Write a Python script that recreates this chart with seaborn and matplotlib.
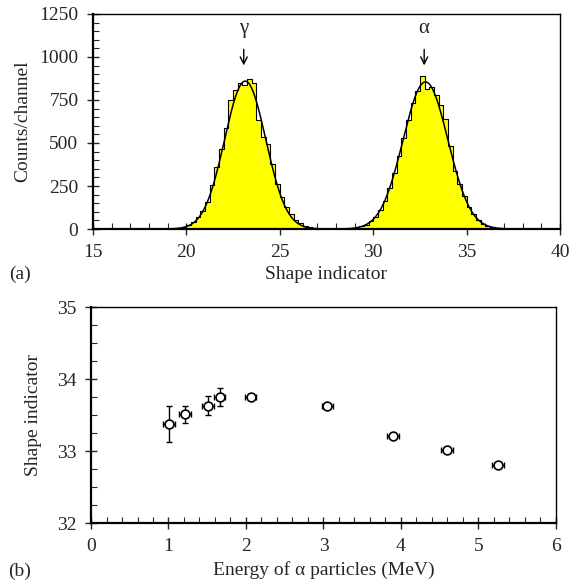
import numpy as np
import pandas as pd
import matplotlib
matplotlib.use('Agg')
import matplotlib.pyplot as plt
import seaborn as sns
from matplotlib.ticker import MultipleLocator

# ---- data ----
bin_width = 0.25
gamma_start = 19.0
gamma_counts = [1, 2, 5, 10, 22, 41, 70, 105, 157, 254, 361, 468, 590, 749, 807, 846, 836,
                870, 846, 633, 536, 493, 380, 264, 186, 128, 90, 55, 35, 20, 10, 5, 2, 1]
alpha_start = 28.5
alpha_counts = [2, 4, 8, 15, 26, 44, 71, 111, 165, 236, 323, 422, 530, 635, 730, 803, 890,
                815, 824, 780, 720, 637, 481, 338, 264, 190, 128, 90, 55, 31, 18, 10, 5, 3, 1, 1]

# gaussian fits: amplitude, centroid, sigma
fit_gamma = [860, 23.15, 1.1]
fit_alpha = [855, 32.8, 1.2]

peak_labels = ['γ', 'α']
peak_pos = [23.07, 32.73]

energy = [1.01, 1.21, 1.51, 1.66, 2.06, 3.05, 3.90, 4.59, 5.25]
shape = [33.37, 33.51, 33.63, 33.75, 33.75, 33.625, 33.21, 33.01, 32.80]
shape_err = [0.25, 0.12, 0.13, 0.12, 0.03, 0.03, 0.03, 0.03, 0.03]
energy_err = [0.075, 0.075, 0.075, 0.075, 0.075, 0.075, 0.075, 0.075, 0.075]

sns.set_style('white')
plt.rcParams['font.family'] = ['Liberation Serif', 'DejaVu Serif']
fs = 14

fig = plt.figure(figsize=(5.8, 5.83), dpi=100)
ax1 = fig.add_axes([0.1603, 0.6072, 0.8052, 0.3688])
ax2 = fig.add_axes([0.1569, 0.1029, 0.8017, 0.3705])

# ---- (a) histogram ----
for start, counts in [(gamma_start, gamma_counts), (alpha_start, alpha_counts)]:
    n = len(counts)
    hist_df = pd.DataFrame({'x': start + bin_width * (np.arange(n) + 0.5), 'w': counts})
    sns.histplot(data=hist_df, x='x', weights='w', binwidth=bin_width,
                 binrange=(start, start + n * bin_width), element='step', fill=True,
                 color='#ffff00', alpha=1, edgecolor='black', linewidth=0.8, ax=ax1)

xs = np.linspace(15, 40, 1000)
fit = np.zeros_like(xs)
for a, m, s in [fit_gamma, fit_alpha]:
    fit += a * np.exp(-(xs - m) ** 2 / (2 * s ** 2))
sns.lineplot(x=xs, y=fit, color='black', linewidth=1.1, ax=ax1)

for lab, xp in zip(peak_labels, peak_pos):
    ax1.annotate('', xy=(xp, 935), xytext=(xp, 1060),
                 arrowprops=dict(arrowstyle='->,head_length=0.5,head_width=0.25',
                                 color='black', lw=1.0))
    ax1.text(xp, 1165, lab, ha='center', va='center', fontsize=fs + 1)

ax1.set_xlim(15, 40)
ax1.set_ylim(0, 1250)
ax1.xaxis.set_major_locator(MultipleLocator(5))
ax1.xaxis.set_minor_locator(MultipleLocator(1))
ax1.yaxis.set_major_locator(MultipleLocator(250))
ax1.yaxis.set_minor_locator(MultipleLocator(50))
ax1.set_xlabel('Shape indicator', fontsize=fs, labelpad=4)
ax1.set_ylabel('Counts/channel', fontsize=fs)
ax1.yaxis.set_label_coords(-0.133, 0.5)

# ---- (b) shape indicator vs energy ----
ax2.errorbar(energy, shape, yerr=shape_err, xerr=energy_err, fmt='none',
             ecolor='black', elinewidth=1.0, capsize=2.5, capthick=1.0)
sns.scatterplot(x=energy, y=shape, marker='o', s=40, facecolor='white',
                edgecolor='black', linewidth=1.2, zorder=3, ax=ax2)
ax2.set_xlim(0, 6)
ax2.set_ylim(32, 35)
ax2.xaxis.set_major_locator(MultipleLocator(1))
ax2.xaxis.set_minor_locator(MultipleLocator(0.2))
ax2.yaxis.set_major_locator(MultipleLocator(1))
ax2.yaxis.set_minor_locator(MultipleLocator(0.25))
ax2.set_xlabel('Energy of α particles (MeV)', fontsize=fs, labelpad=5)
ax2.set_ylabel('Shape indicator', fontsize=fs)
ax2.yaxis.set_label_coords(-0.105, 0.5)

for ax in (ax1, ax2):
    ax.tick_params(which='major', direction='inout', length=9, width=1.0,
                   labelsize=fs, top=False, right=False, bottom=True, left=True, pad=6)
    ax.tick_params(which='minor', direction='in', length=4, width=0.8,
                   top=False, right=False, bottom=True, left=True)
    for side in ['left', 'bottom']:
        ax.spines[side].set_linewidth(1.6)
    for side in ['top', 'right']:
        ax.spines[side].set_linewidth(1.0)
    for sp in ax.spines.values():
        sp.set_color('black')
        sp.set_visible(True)
    ax.grid(False)

fig.text(0.034, 0.530, '(a)', fontsize=fs, ha='center', va='center')
fig.text(0.034, 0.0206, '(b)', fontsize=fs, ha='center', va='center')

fig.savefig('out.png', dpi=100)
plt.close(fig)
